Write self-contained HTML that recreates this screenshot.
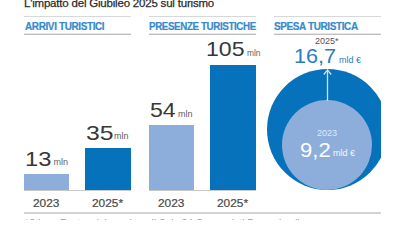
<!DOCTYPE html>
<html><head><meta charset="utf-8">
<style>
html,body{margin:0;padding:0;background:#fff;}
body{width:400px;height:220px;position:relative;overflow:hidden;font-family:"Liberation Sans",sans-serif;}
.a{position:absolute;white-space:nowrap;line-height:1;}
.title{left:24px;top:-2px;font-size:11.5px;letter-spacing:-0.2px;color:#2a2a2a;-webkit-text-stroke:0.25px #2a2a2a;}
.hl{position:absolute;height:1px;background:#d8d8d8;}
.hd{position:absolute;height:1px;background:#c0c0c0;box-shadow:0 -1px 0 #e6e6e6;}
.hdr{font-weight:bold;font-size:10.5px;color:#378acb;letter-spacing:-0.4px;transform-origin:0 0;transform:scaleX(0.95);-webkit-text-stroke:0.2px #378acb;}
.bar{position:absolute;}
.dk{background:#0772bc;}
.lt{background:#8daeda;}
.num{font-size:21px;color:#383838;transform-origin:0 0;transform:scaleX(1.1);}
.unit{font-size:9px;color:#5e5e5e;}
.yr{font-size:11px;color:#4a4a4a;transform-origin:0 0;transform:scaleX(1.08);-webkit-text-stroke:0.2px #4a4a4a;}
</style></head><body>
<div class="a title">L'impatto del Giubileo 2025 sul turismo</div>

<div class="hl" style="left:24px;top:16px;width:107px;"></div>
<div class="hl" style="left:149px;top:16px;width:107px;"></div>
<div class="hl" style="left:274px;top:16px;width:107px;"></div>

<div class="a hdr" style="left:25px;top:21px;">ARRIVI TURISTICI</div>
<div class="a hdr" style="left:149px;top:21px;transform:scaleX(0.93);">PRESENZE TURISTICHE</div>
<div class="a hdr" style="left:274px;top:21px;">SPESA TURISTICA</div>

<div class="hd" style="left:24px;top:34px;width:107px;"></div>
<div class="hd" style="left:149px;top:34px;width:107px;"></div>
<div class="hd" style="left:274px;top:34px;width:107px;"></div>

<!-- col 1 -->
<div class="bar lt" style="left:24px;top:174px;width:45px;height:16px;"></div>
<div class="bar dk" style="left:85px;top:148px;width:46px;height:42px;"></div>
<div class="hl" style="left:24px;top:190px;width:107px;background:#c8c8c8;"></div>
<div class="a num" style="left:25px;top:148px;transform:scaleX(1.13);">13</div>
<div class="a unit" style="left:53.5px;top:158px;">mln</div>
<div class="a num" style="left:86px;top:122px;transform:scaleX(1.18);">35</div>
<div class="a unit" style="left:114px;top:132px;">mln</div>
<div class="a yr" style="left:33px;top:198px;">2023</div>
<div class="a yr" style="left:92px;top:198px;">2025*</div>

<!-- col 2 -->
<div class="bar lt" style="left:149px;top:125px;width:45px;height:65px;"></div>
<div class="bar dk" style="left:210px;top:65px;width:46px;height:125px;"></div>
<div class="hl" style="left:149px;top:190px;width:107px;background:#c8c8c8;"></div>
<div class="a num" style="left:150px;top:99px;">54</div>
<div class="a unit" style="left:178px;top:110px;">mln</div>
<div class="a num" style="left:206px;top:38px;">105</div>
<div class="a unit" style="left:247px;top:49px;transform-origin:0 0;transform:scaleX(0.93);">mln</div>
<div class="a yr" style="left:158px;top:198px;">2023</div>
<div class="a yr" style="left:217px;top:198px;">2025*</div>

<!-- col 3 -->
<div style="position:absolute;left:250px;top:60px;width:131px;height:140px;overflow:hidden;">
  <div style="position:absolute;left:16.5px;top:9px;width:121px;height:121px;border-radius:50%;background:#0772bc;"></div>
  <div style="position:absolute;left:32px;top:40px;width:90px;height:90px;border-radius:50%;background:#8daeda;"></div>
</div>
<svg style="position:absolute;left:0;top:0" width="400" height="220">
  <line x1="327.5" y1="69.5" x2="327.5" y2="101" stroke="#cfe0f2" stroke-width="1.3"/>
  <polyline points="323.8,74.5 327.5,70 331.2,74.5" fill="none" stroke="#cfe0f2" stroke-width="1.3"/>
</svg>
<div class="a" style="left:315px;top:37px;font-size:9px;color:#555;">2025*</div>
<div class="a num" style="left:294px;top:45px;color:#2a7dc0;transform:scaleX(1.03);">16,7</div>
<div class="a unit" style="left:339px;top:56px;color:#2a7dc0;">mld €</div>
<div class="a unit" style="left:317px;top:129px;color:#dfe8f4;">2023</div>
<div class="a num" style="left:300px;top:139px;color:#fff;transform:scaleX(1.05);">9,2</div>
<div class="a unit" style="left:333px;top:149px;color:#f4f7fb;">mld €</div>

<div class="hl" style="left:24px;top:212px;width:357px;height:2px;background:#d4d4d4;"></div>
<div class="a" style="left:25px;top:218.8px;font-size:10px;color:#9a9a9a;">*Stime. Fonte: elaborazione Il Sole 24 Ore su dati Demoskopika</div>
</body></html>
